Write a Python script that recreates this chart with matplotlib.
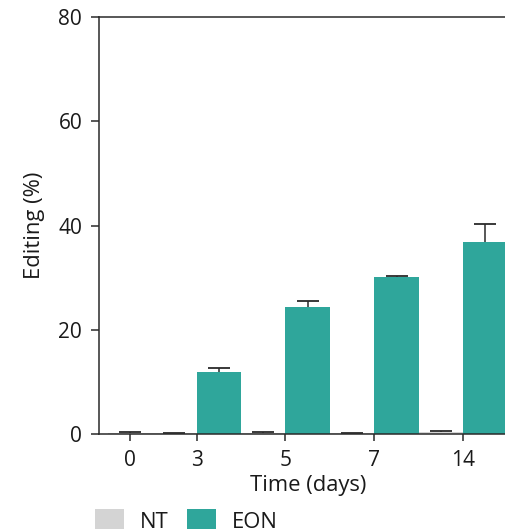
import matplotlib.pyplot as plt
from matplotlib.patches import Patch

plt.rcParams['font.family'] = ['Open Sans', 'DejaVu Sans']

# Datos: edición (%) por día, NT y EON
dias = ['0', '3', '5', '7', '14']
nt = [0.2, 0.1, 0.2, 0.1, 0.35]
nt_err = [0.15, 0.05, 0.1, 0.05, 0.15]
eon_dias = ['3', '5', '7', '14']
eon = [11.9, 24.4, 30.1, 36.8]
eon_err = [0.75, 1.1, 0.2, 3.4]

color_nt = '#d4d4d4'
color_eon = '#2fa69b'
color_linea = '#2a2a2a'
color_texto = '#1a1a1a'

# posiciones: día 0 solo NT, luego pares NT/EON pegados
pos_nt = [0, 1, 3, 5, 7]
pos_eon = [2, 4, 6, 8]
pos_ticks = [0, 1.5, 3.5, 5.5, 7.5]

fig = plt.figure(figsize=(5.05, 5.29), dpi=100)
ax = fig.add_axes([99 / 505, 95 / 529, 417.4 / 505, 417 / 529])

ancho = 1.0
err_kw = dict(ecolor=color_linea, elinewidth=1.1, capsize=7.9, capthick=1.3)
barras_nt = ax.bar(pos_nt, nt, width=ancho, color=color_nt,
                   yerr=[[0] * len(nt), nt_err], error_kw=err_kw, zorder=2)
barras_eon = ax.bar(pos_eon, eon, width=ancho, color=color_eon,
                    yerr=[[0] * len(eon), eon_err], error_kw=err_kw, zorder=2)

# solo barra de error hacia arriba: ocultar el cap inferior
for barras in (barras_nt, barras_eon):
    caps = barras.errorbar.lines[1]
    if len(caps) > 1:
        caps[0].set_visible(False)

ax.set_xlim(-0.7, 8.7)
ax.set_ylim(0, 80)
ax.set_yticks([0, 20, 40, 60, 80])
ax.set_xticks(pos_ticks)
ax.set_xticklabels(dias)

for lado in ['left', 'top', 'bottom']:
    ax.spines[lado].set_color(color_linea)
    ax.spines[lado].set_linewidth(1.1)
ax.spines['right'].set_visible(False)

ax.tick_params(axis='y', length=5.8, width=1.1, color=color_linea,
               labelsize=15, pad=6.3, labelcolor=color_texto)
ax.tick_params(axis='x', length=5.0, width=1.1, color=color_linea,
               labelsize=15, pad=6.5, labelcolor=color_texto)

ax.set_xlabel('Time (days)', fontsize=15.8, color=color_texto, labelpad=3.0)
ax.set_ylabel('Editing (%)', fontsize=15.8, color=color_texto, labelpad=9.5)

handles = [Patch(facecolor=color_nt, edgecolor='none', label='NT'),
           Patch(facecolor=color_eon, edgecolor='none', label='EON')]
fig.legend(handles=handles, loc='upper left', ncol=2, frameon=False,
           bbox_to_anchor=(95 / 505, 1 - 509 / 529), borderaxespad=0,
           borderpad=0, fontsize=15.8, handlelength=1.3, handleheight=1.3,
           handletextpad=0.75, columnspacing=0.85, labelcolor=color_texto)

fig.savefig('out.png', dpi=100)
